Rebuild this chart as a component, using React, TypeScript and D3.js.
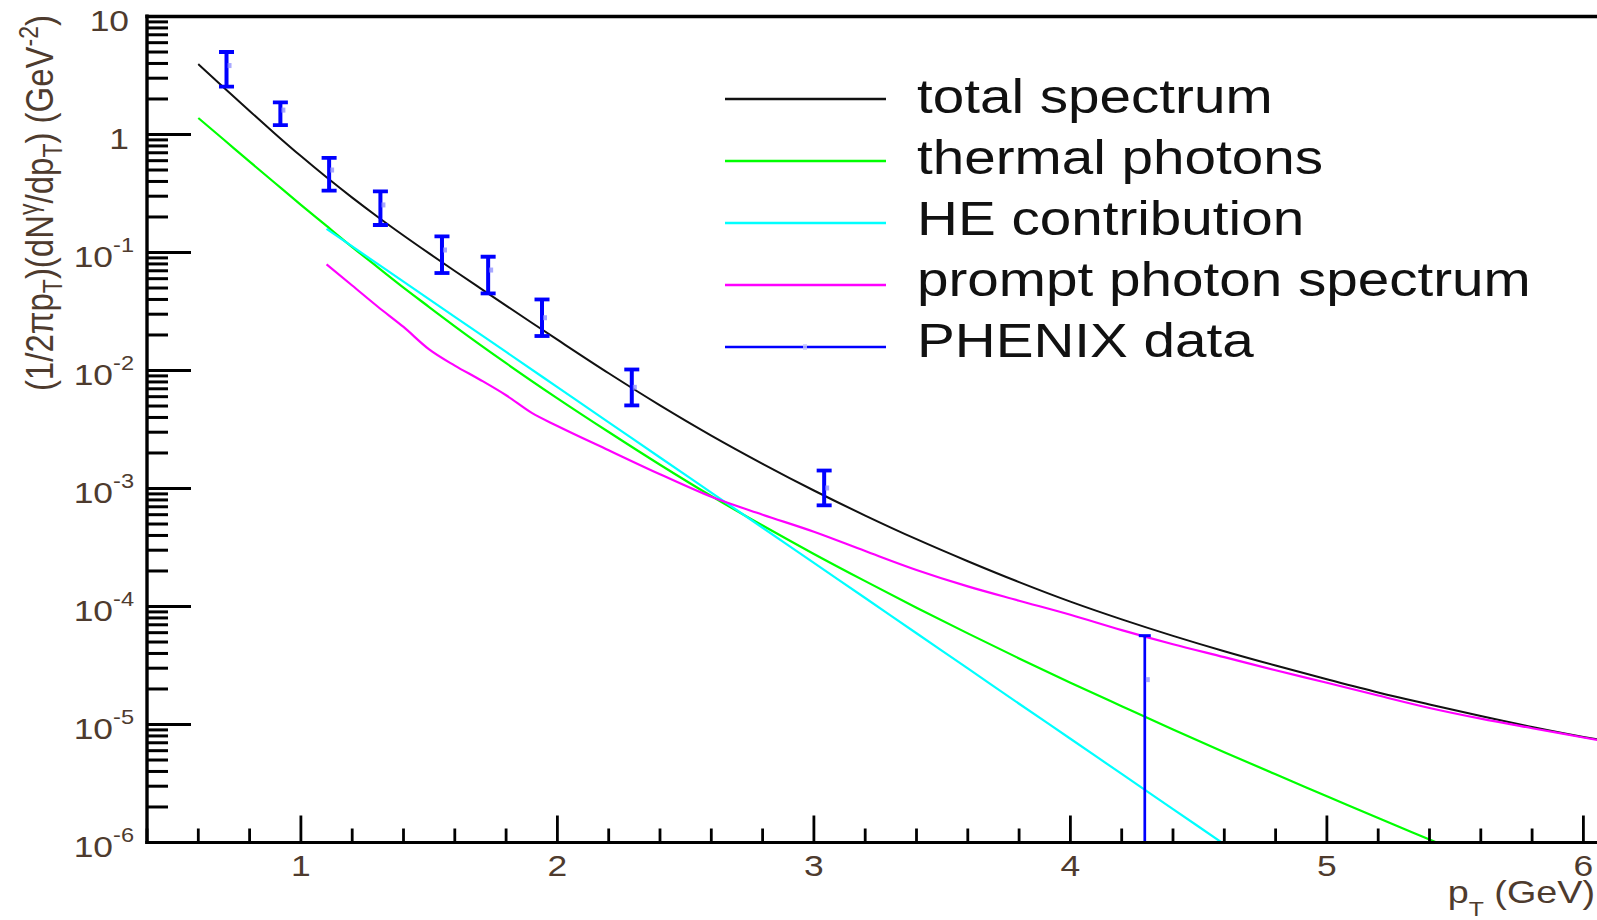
import React from "react";
import * as d3 from "d3";

const WIDTH = 1597;
const HEIGHT = 920;

// Total photon spectrum
const totalPt = [0.6, 0.7, 0.8, 0.9, 1.0, 1.1, 1.2, 1.3, 1.4, 1.5, 1.6, 1.7, 1.8, 1.9, 2.0, 2.2, 2.4, 2.6, 2.8, 3.0, 3.2, 3.4, 3.6, 3.8, 4.0, 4.2, 4.4, 4.6, 4.8, 5.0, 5.2, 5.4, 5.6, 5.8, 6.0, 6.1];
const totalYield = [3.95, 2.495, 1.581, 1.012, 0.656, 0.4335, 0.2917, 0.2, 0.1393, 0.0982, 0.0697, 0.0497, 0.0355, 0.0254, 0.01824, 0.00948, 0.00507, 0.00281, 0.00162, 9.62e-4, 5.9e-4, 3.72e-4, 2.42e-4, 1.61e-4, 1.1e-4, 7.78e-5, 5.64e-5, 4.18e-5, 3.16e-5, 2.42e-5, 1.87e-5, 1.48e-5, 1.18e-5, 9.53e-6, 7.85e-6, 7.2e-6];

// Thermal photons
const thermalPt = [0.6, 0.7, 0.8, 0.9, 1.0, 1.1, 1.2, 1.3, 1.4, 1.5, 1.6, 1.8, 2.0, 2.2, 2.4, 2.6, 2.8, 3.0, 3.2, 3.4, 3.6, 3.8, 4.0, 4.2, 4.4, 4.6, 4.8, 5.0, 5.2, 5.4, 5.5];
const thermalYield = [1.38, 0.902, 0.589, 0.386, 0.2535, 0.1679, 0.1112, 0.0748, 0.0504, 0.0345, 0.02366, 0.01153, 0.00581, 0.00301, 0.00159, 8.63e-4, 4.85e-4, 2.79e-4, 1.64e-4, 9.77e-5, 5.92e-5, 3.63e-5, 2.26e-5, 1.43e-5, 9.08e-6, 5.83e-6, 3.78e-6, 2.47e-6, 1.61e-6, 1.06e-6, 8.6e-7];

// HE contribution
const hePt = [1.1, 1.2, 1.4, 1.6, 1.8, 2.0, 2.2, 2.4, 2.6, 2.8, 3.0, 3.2, 3.4, 3.6, 3.8, 4.0, 4.2, 4.4, 4.6, 4.7];
const heYield = [0.1585, 0.1125, 0.0566, 0.0285, 0.01436, 0.00723, 0.00364, 0.00183, 9.23e-4, 4.65e-4, 2.34e-4, 1.18e-4, 5.93e-5, 2.99e-5, 1.5e-5, 7.57e-6, 3.81e-6, 1.92e-6, 9.66e-7, 6.86e-7];

// Prompt photon spectrum
const promptPt = [1.1, 1.2, 1.3, 1.4, 1.5, 1.6, 1.7, 1.8, 1.9, 2.0, 2.2, 2.4, 2.6, 2.8, 3.0, 3.2, 3.4, 3.6, 3.8, 4.0, 4.2, 4.4, 4.6, 4.8, 5.0, 5.2, 5.4, 5.6, 5.8, 6.0, 6.1];
const promptYield = [0.0794, 0.0525, 0.0347, 0.0234, 0.0151, 0.011, 0.00832, 0.00617, 0.00437, 0.00339, 0.00211, 0.00132, 8.51e-4, 6.0e-4, 4.3e-4, 2.95e-4, 2.04e-4, 1.48e-4, 1.12e-4, 8.51e-5, 6.31e-5, 4.79e-5, 3.72e-5, 2.88e-5, 2.26e-5, 1.76e-5, 1.38e-5, 1.12e-5, 9.3e-6, 7.76e-6, 7.08e-6];

// PHENIX data points with their error bars
const phenixPt = [0.71, 0.92, 1.11, 1.31, 1.55, 1.73, 1.94, 2.29, 3.04, 4.29];
const phenixYield = [3.84, 1.61, 0.5, 0.253, 0.105, 0.071, 0.028, 0.0072, 1.01e-3, 2.4e-5];
const phenixHigh = [5.0, 1.87, 0.634, 0.329, 0.137, 0.092, 0.04, 0.0102, 1.42e-3, 5.66e-5];
const phenixLow = [2.55, 1.2, 0.335, 0.171, 0.067, 0.045, 0.0196, 0.00506, 7.2e-4, 1e-7];

// Axis ticks
const xTickValues = [1, 2, 3, 4, 5, 6];
const yTickValues = [10, 1, 1e-1, 1e-2, 1e-3, 1e-4, 1e-5, 1e-6];
const yTickBase = ["10", "1", "10", "10", "10", "10", "10", "10"];
const yTickExp = ["", "", "-1", "-2", "-3", "-4", "-5", "-6"];

// Legend
const legendLabels = ["total spectrum", "thermal photons", "HE contribution", "prompt photon spectrum", "PHENIX data"];
const legendColors = ["#111111", "#00ff00", "#00ffff", "#ff00ff", "#0000ff"];

const SX = 1.18; // horizontal stretch of all lettering
const FONT = "'Liberation Sans', Arial, Helvetica, sans-serif";
const LABEL_COLOR = "#4e3b2e";

export default function App() {
  const left = 147;
  const top = 16.5;
  const bottom = 842.5;
  const x = d3.scaleLinear().domain([0.4, 6.1]).range([left, left + 5.7 * 256.5]);
  const y = d3.scaleLog().domain([1e-6, 10]).range([bottom, top]);

  const line = d3
    .line<[number, number]>()
    .x((d) => x(d[0]))
    .y((d) => y(d[1]))
    .curve(d3.curveMonotoneX);

  const zip = (a: number[], b: number[]) => a.map((v, i) => [v, b[i]] as [number, number]);

  const curves = [
    { pts: zip(totalPt, totalYield), color: legendColors[0], w: 2 },
    { pts: zip(thermalPt, thermalYield), color: legendColors[1], w: 2.2 },
    { pts: zip(hePt, heYield), color: legendColors[2], w: 2.2 },
    { pts: zip(promptPt, promptYield), color: legendColors[3], w: 2.2 },
  ];

  // minor ticks
  const xMinor = d3
    .range(2, 31)
    .map((i) => i * 0.2)
    .filter((v) => Math.abs(v - Math.round(v)) > 1e-6);
  const yMinor: number[] = [];
  for (let e = -6; e < 1; e++) {
    for (let k = 2; k <= 9; k++) yMinor.push(k * Math.pow(10, e));
  }

  const plotRight = WIDTH + 20;

  return (
    <svg
      width={WIDTH}
      height={HEIGHT}
      viewBox={`0 0 ${WIDTH} ${HEIGHT}`}
      style={{ position: "absolute", left: 0, top: 0, background: "#fff", display: "block" }}
      fontFamily={FONT}
    >
      <defs>
        <clipPath id="plot-clip">
          <rect x={left} y={top} width={plotRight - left} height={bottom - top} />
        </clipPath>
      </defs>
      <rect x={0} y={0} width={WIDTH} height={HEIGHT} fill="#fff" />

      {/* model curves */}
      <g clipPath="url(#plot-clip)" fill="none">
        {curves.map((c, i) => (
          <path key={i} d={line(c.pts) || ""} stroke={c.color} strokeWidth={c.w} strokeLinejoin="round" />
        ))}
      </g>

      {/* PHENIX data */}
      <g clipPath="url(#plot-clip)">
        {phenixPt.map((pt, i) => {
          const cx = x(pt);
          const yHi = y(phenixHigh[i]);
          const yLo = y(Math.max(phenixLow[i], 1e-8));
          const last = i === phenixPt.length - 1;
          const bw = last ? 2.7 : 4;
          const capHalf = last ? 6 : 7.5;
          return (
            <g key={i} stroke="#0000ff">
              <line x1={cx} x2={cx} y1={yHi} y2={yLo} strokeWidth={bw} />
              <line x1={cx - capHalf} x2={cx + capHalf} y1={yHi} y2={yHi} strokeWidth={last ? 3 : 3.8} />
              <line x1={cx - capHalf} x2={cx + capHalf} y1={yLo} y2={yLo} strokeWidth={3.8} />
              <rect x={cx + 1} y={y(phenixYield[i]) - 2.5} width={4} height={5} fill="#8c8cff" stroke="none" opacity={0.75} />
            </g>
          );
        })}
      </g>

      {/* axes */}
      <g stroke="#000" fill="none">
        <line x1={left} x2={left} y1={top - 2} y2={bottom + 1.5} strokeWidth={3.4} />
        <line x1={left - 1.7} x2={plotRight} y1={top} y2={top} strokeWidth={3.6} />
        <line x1={left - 1.7} x2={plotRight} y1={bottom} y2={bottom} strokeWidth={3} />
        {yTickValues.map((v, i) => (
          <line key={"ym" + i} x1={left} x2={left + 44} y1={y(v)} y2={y(v)} strokeWidth={3.2} />
        ))}
        {yMinor.map((v, i) => (
          <line key={"yn" + i} x1={left} x2={left + 21} y1={y(v)} y2={y(v)} strokeWidth={3} />
        ))}
        {xTickValues.map((v, i) => (
          <line key={"xm" + i} x1={x(v)} x2={x(v)} y1={bottom} y2={bottom - 27} strokeWidth={2.8} />
        ))}
        {xMinor.map((v, i) => (
          <line key={"xn" + i} x1={x(v)} x2={x(v)} y1={bottom} y2={bottom - 14} strokeWidth={2.8} />
        ))}
      </g>

      {/* y tick labels */}
      <g fill={LABEL_COLOR} fontSize={30}>
        {yTickValues.map((v, i) => (
          <text key={i} transform={`translate(${yTickExp[i] ? 134 : 129}, ${y(v) + 14.5}) scale(${SX},1)`} textAnchor="end">
            {yTickBase[i]}
            {yTickExp[i] ? (
              <tspan dy={-15} fontSize={20}>
                {yTickExp[i]}
              </tspan>
            ) : null}
          </text>
        ))}
      </g>

      {/* x tick labels */}
      <g fill={LABEL_COLOR} fontSize={30}>
        {xTickValues.map((v, i) => (
          <text key={i} transform={`translate(${x(v)}, 876) scale(${SX},1)`} textAnchor="middle">
            {v}
          </text>
        ))}
      </g>

      {/* axis titles */}
      <text transform={`translate(1595, 903) scale(${SX},1)`} textAnchor="end" fontSize={32} fill={LABEL_COLOR}>
        p
        <tspan dy={13} fontSize={21}>
          T
        </tspan>
        <tspan dy={-13}> (GeV)</tspan>
      </text>
      <text transform={`translate(53, 15) scale(${SX},1) rotate(-90)`} textAnchor="end" fontSize={33} fill={LABEL_COLOR}>
        (1/2πp
        <tspan dy={8} fontSize={23}>T</tspan>
        <tspan dy={-8}>)(dN</tspan>
        <tspan dy={-13} fontSize={23}>γ</tspan>
        <tspan dy={13}>/dp</tspan>
        <tspan dy={8} fontSize={23}>T</tspan>
        <tspan dy={-8}>) (GeV</tspan>
        <tspan dy={-13} fontSize={23}>-2</tspan>
        <tspan dy={13}>)</tspan>
      </text>

      {/* legend */}
      <g>
        {legendLabels.map((label, i) => {
          const ly = 99 + 62 * i;
          const ty = 113 + 61 * i;
          return (
            <g key={i}>
              <line x1={725} x2={886} y1={ly} y2={ly} stroke={legendColors[i]} strokeWidth={2.5} />
              {i === legendLabels.length - 1 ? (
                <rect x={803} y={ly - 3} width={4} height={6} fill="#c8c8ff" opacity={0.8} />
              ) : null}
              <text transform={`translate(917, ${ty}) scale(${SX},1)`} fontSize={48} fill="#111">
                {label}
              </text>
            </g>
          );
        })}
      </g>
    </svg>
  );
}
